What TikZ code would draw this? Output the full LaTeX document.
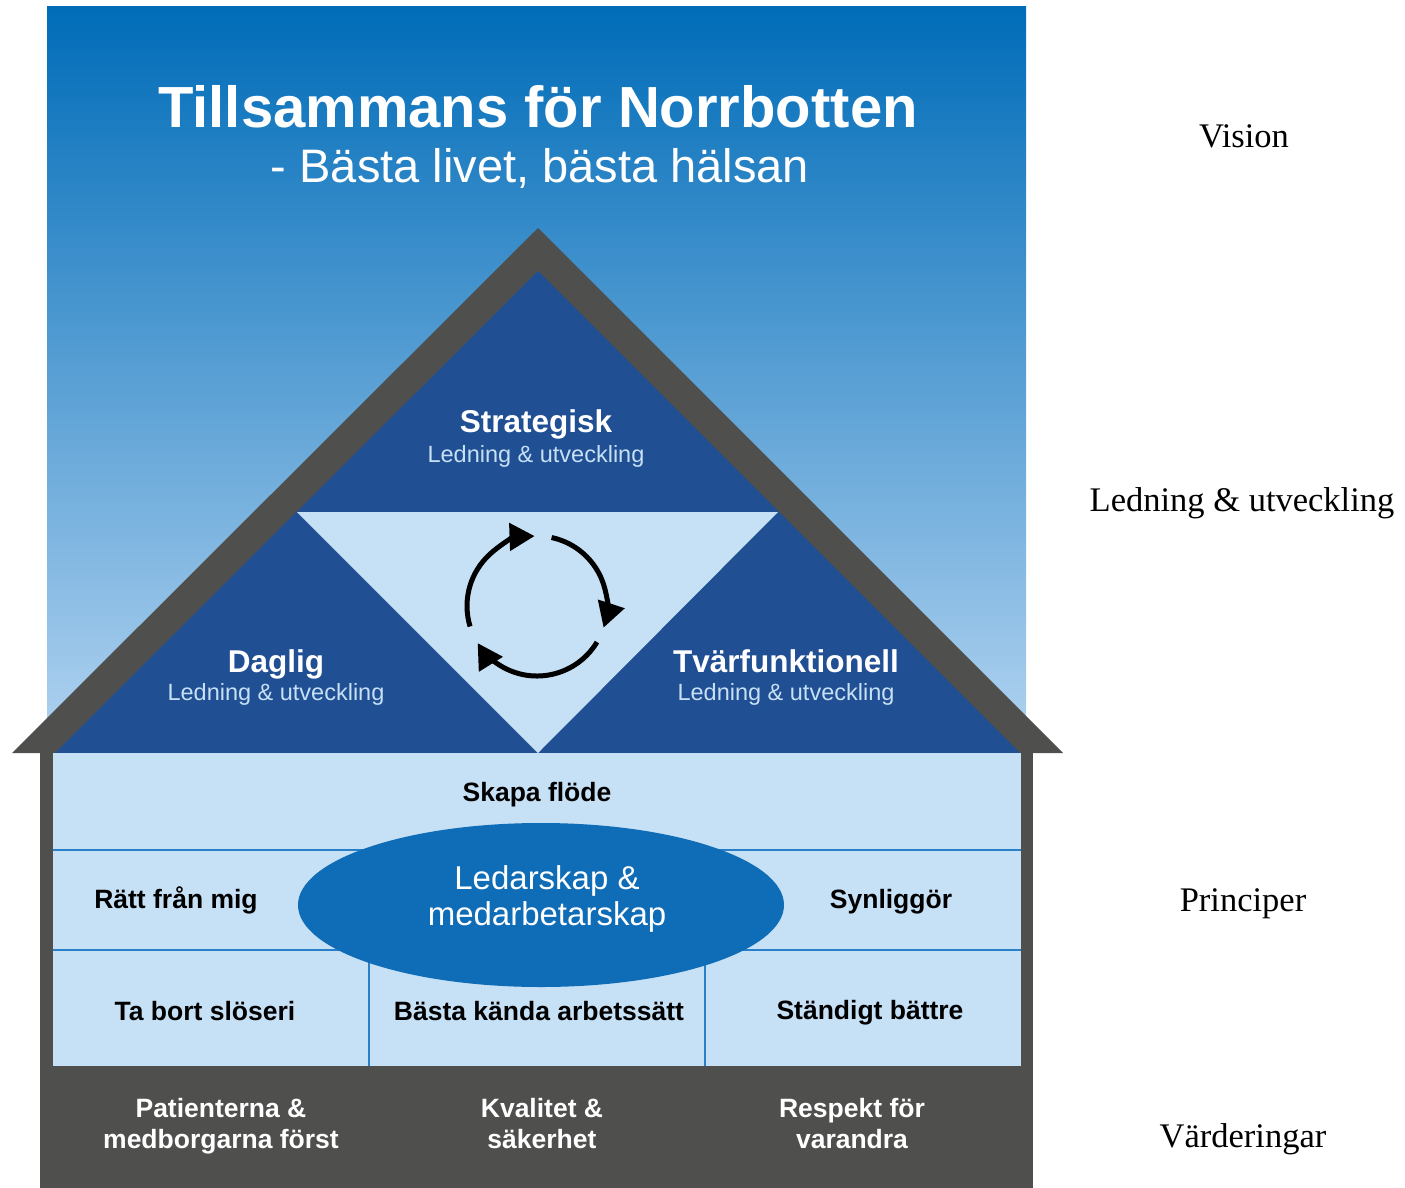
\documentclass[tikz,border=0pt]{standalone}
\usepackage{fontspec}
\setmainfont{Liberation Sans}
\newfontfamily\sidefont{Liberation Serif}
\usetikzlibrary{shapes.geometric,arrows.meta}
\begin{document}
\begin{tikzpicture}[x=1pt,y=-1pt,
  hdr/.style={anchor=base,text=white,font=\bfseries\fontsize{31.5}{36}\selectfont},
  subhdr/.style={anchor=base,text=pale,font=\fontsize{23.5}{28}\selectfont},
  cell/.style={anchor=base,text=black,font=\bfseries\fontsize{26.5}{32}\selectfont},
  value/.style={anchor=base,text=white,font=\bfseries\fontsize{26.5}{32}\selectfont},
  side/.style={anchor=base,text=black,font=\sidefont\fontsize{34.5}{40}\selectfont},
  rule/.style={draw=line,line width=2pt},
  cyc/.style={line width=5pt,-{Triangle[length=25pt,width=27pt]}}]
\definecolor{skytop}{HTML}{006CB8}
\definecolor{skybot}{HTML}{B3D4F1}
\definecolor{roof}{HTML}{4F504E}
\definecolor{navy}{HTML}{214F93}
\definecolor{pale}{HTML}{C6E0F5}
\definecolor{oval}{HTML}{0F6CB6}
\definecolor{line}{HTML}{2A7FC9}
\useasboundingbox (0,0) rectangle (1405,1188);
\shade[top color=skytop,bottom color=skybot] (47,7) rectangle (1026,753);
\fill[roof] (12,753) -- (538,228) -- (1063,753) -- cycle;
\fill[navy] (55,753) -- (538,271) -- (1020,753) -- cycle;
\fill[pale] (297,512) -- (778,512) -- (538,753) -- cycle;
\fill[roof] (40,753) rectangle (1033,1188);
\fill[pale] (53,753) rectangle (1021,1066);
\draw[rule] (53,850) -- (1021,850) (53,950) -- (1021,950);
\draw[rule] (369,950) -- (369,1066) (705,950) -- (705,1066);
\node[ellipse,fill=oval,minimum width=486pt,minimum height=164pt,inner sep=0pt] (oval) at (541,905) {};
\draw[cyc] (537,606) ++(163:70) arc[start angle=163,end angle=268,radius=70];
\draw[cyc] (537,606) ++(282:70) arc[start angle=282,end angle=378,radius=70];
\draw[cyc] (537,606) ++(31:70) arc[start angle=31,end angle=148,radius=70];
\node[anchor=base,text=white,font=\bfseries\fontsize{58}{66}\selectfont] (title) at (538,128) {Tillsammans för Norrbotten};
\node[anchor=base,text=white,font=\fontsize{47}{54}\selectfont] (motto) at (540,182) {- Bästa livet, bästa hälsan};
\node[hdr] (strat) at (536,432) {Strategisk};
\node[subhdr] (stratsub) at (536,462) {Ledning \& utveckling};
\node[hdr] (daglig) at (276,672) {Daglig};
\node[subhdr] (dagligsub) at (276,700) {Ledning \& utveckling};
\node[hdr] (tvar) at (786,672) {Tvärfunktionell};
\node[subhdr] (tvarsub) at (786,700) {Ledning \& utveckling};
\node[anchor=base,text=white,font=\fontsize{33}{38}\selectfont] (ledar) at (547,889) {Ledarskap \&};
\node[anchor=base,text=white,font=\fontsize{33}{38}\selectfont] (medarb) at (547,925) {medarbetarskap};
\node[cell] (flode) at (537,801) {Skapa flöde};
\node[cell] (ratt) at (176,908) {Rätt från mig};
\node[cell] (synlig) at (891,908) {Synliggör};
\node[cell] (tabort) at (205,1020) {Ta bort slöseri};
\node[cell] (basta) at (539,1020) {Bästa kända arbetssätt};
\node[cell] (standigt) at (870,1019) {Ständigt bättre};
\node[value] (patient) at (221,1117) {Patienterna \&};
\node[value] (medborg) at (221,1148) {medborgarna först};
\node[value] (kvalitet) at (542,1117) {Kvalitet \&};
\node[value] (saker) at (542,1148) {säkerhet};
\node[value] (respekt) at (852,1117) {Respekt för};
\node[value] (varandra) at (852,1148) {varandra};
\node[side] (vision) at (1244,147) {Vision};
\node[side] (ledning) at (1242,511) {Ledning \& utveckling};
\node[side] (principer) at (1243,911) {Principer};
\node[side] (varde) at (1243,1147) {Värderingar};
\end{tikzpicture}
\end{document}
